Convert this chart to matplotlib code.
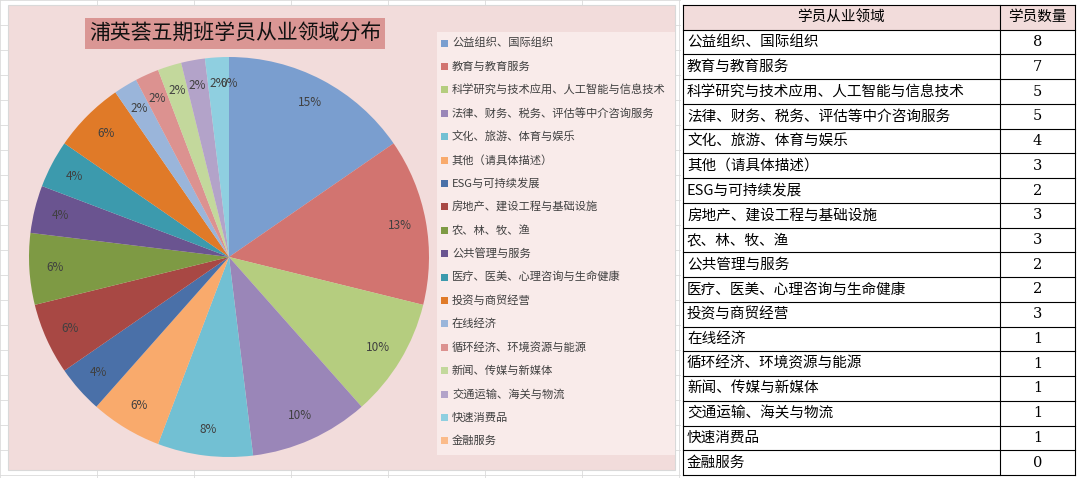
import matplotlib
matplotlib.use("Agg")
import matplotlib.pyplot as plt
from matplotlib.patches import Rectangle

plt.rcParams["font.family"] = ["Noto Sans CJK SC", "DejaVu Sans"]

CATEGORIES = [
    "公益组织、国际组织", "教育与教育服务", "科学研究与技术应用、人工智能与信息技术",
    "法律、财务、税务、评估等中介咨询服务", "文化、旅游、体育与娱乐", "其他（请具体描述）",
    "ESG与可持续发展", "房地产、建设工程与基础设施", "农、林、牧、渔", "公共管理与服务",
    "医疗、医美、心理咨询与生命健康", "投资与商贸经营", "在线经济", "循环经济、环境资源与能源",
    "新闻、传媒与新媒体", "交通运输、海关与物流", "快速消费品", "金融服务",
]
COUNTS = [8, 7, 5, 5, 4, 3, 2, 3, 3, 2, 2, 3, 1, 1, 1, 1, 1, 0]
COLORS = [
    "#7A9ECF", "#D27470", "#B5CD7F", "#9A86B8", "#72C0D3", "#F9AA6C",
    "#4A70A8", "#A84844", "#7E9A44", "#6A5490", "#3C9AAD", "#E07A28",
    "#9AB5DA", "#DC9290", "#C3D89C", "#B3A3C9", "#8FCFE0", "#FBBB8A",
]
TITLE = "浦英荟五期班学员从业领域分布"
HEADER = ["学员从业领域", "学员数量"]

W, H = 1080, 478
fig = plt.figure(figsize=(W / 100, H / 100), dpi=100)
bg = fig.add_axes([0, 0, 1, 1])
bg.set_xlim(0, W)
bg.set_ylim(H, 0)
bg.axis("off")

# spreadsheet grid behind chart
for gx in range(0, 680, 97):
    bg.plot([gx, gx], [0, H], color="#DADADA", lw=0.6, zorder=0)
for gy in range(0, H, 25):
    bg.plot([0, 680], [gy, gy], color="#DADADA", lw=0.6, zorder=0)

# chart area
bg.add_patch(Rectangle((8, 5), 667, 465, facecolor="#F2DCDB", edgecolor="#D9D9D9", lw=0.8, zorder=1))
bg.add_patch(Rectangle((437, 32), 238, 423, facecolor="#F9EBEA", edgecolor="none", zorder=1))
bg.add_patch(Rectangle((85, 18), 300, 31, facecolor="#DA9694", edgecolor="none", zorder=1))
bg.text(235, 34, TITLE, ha="center", va="center", fontsize=15, color="#111111")

# legend
for i, (cat, c) in enumerate(zip(CATEGORIES, COLORS)):
    y = 43 + i * 23.4
    bg.add_patch(Rectangle((441, y - 3.5), 7, 7, facecolor=c, edgecolor="none", zorder=2))
    bg.text(452, y, cat, ha="left", va="center", fontsize=8.1, color="#404040")

# pie
cx, cy, r = 229, 257, 200
pax = fig.add_axes([(cx - r) / W, (H - cy - r) / H, 2 * r / W, 2 * r / H])
pax.pie(COUNTS, colors=COLORS, startangle=90, counterclock=False,
        autopct=lambda p: f"{p:.0f}%", pctdistance=0.87,
        wedgeprops=dict(linewidth=0), textprops=dict(fontsize=8.5, color="#404040"))
pax.set_xlim(-1, 1)
pax.set_ylim(-1, 1)

# table
tx0, tx1, tsplit, ty0, ty1 = 683, 1075, 1000, 5, 475
nrows = len(CATEGORIES) + 1
rh = (ty1 - ty0) / nrows
bg.add_patch(Rectangle((tx0, ty0), tx1 - tx0, rh, facecolor="#F2DCDB", edgecolor="none", zorder=1))
for i in range(nrows + 1):
    bg.plot([tx0, tx1], [ty0 + i * rh] * 2, color="#000000", lw=0.8, zorder=3)
for x in (tx0, tsplit, tx1):
    bg.plot([x, x], [ty0, ty1], color="#000000", lw=0.8, zorder=3)
bg.text((tx0 + tsplit) / 2, ty0 + rh / 2, HEADER[0], ha="center", va="center", fontsize=10.5)
bg.text((tsplit + tx1) / 2, ty0 + rh / 2, HEADER[1], ha="center", va="center", fontsize=10.5)
for i, (cat, n) in enumerate(zip(CATEGORIES, COUNTS)):
    y = ty0 + (i + 1.5) * rh
    bg.text(tx0 + 4, y, cat, ha="left", va="center", fontsize=10.5)
    bg.text((tsplit + tx1) / 2, y, str(n), ha="center", va="center", fontsize=10.5,
            family=["DejaVu Serif"])

fig.savefig("out.png", dpi=100)
